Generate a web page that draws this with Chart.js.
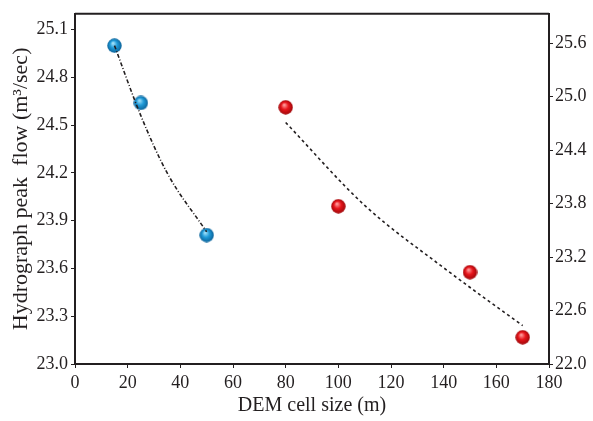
<!DOCTYPE html>
<html>
<head>
<meta charset="utf-8">
<style>
  html, body { margin: 0; padding: 0; background: #fff; }
  #wrap { width: 593px; height: 421px; }
</style>
</head>
<body>
<div id="wrap"><canvas id="peakFlowChart"></canvas></div>
<script src="https://cdn.jsdelivr.net/npm/chart.js"></script>
<script>
// values
const cellSizeBlue = [15, 25, 50];
const peakFlowBlue = [25.0, 24.64, 23.81];
const cellSizeRed = [80, 100, 150, 170];
const peakFlowRed = [24.88, 23.77, 23.03, 22.30];

// trend curves as traced on the figure
const trendBlueX = [15, 25, 35, 50];
const trendBlueY = [25.0, 24.56, 24.2, 23.83];
const trendRedX = [80, 110, 140, 170];
const trendRedY = [24.71, 23.78, 23.08, 22.43];

const xTicks = [0, 20, 40, 60, 80, 100, 120, 140, 160, 180];
const leftTicks = [23.0, 23.3, 23.6, 23.9, 24.2, 24.5, 24.8, 25.1];
const rightTicks = [22.0, 22.6, 23.2, 23.8, 24.4, 25.0, 25.6];

const ink = '#231f20';
const serif = '"Liberation Serif", "DejaVu Serif", serif';

function toPoints(xs, ys) {
    return xs.map((x, i) => ({ x: x, y: ys[i] }));
}

// shaded ball marker
function ball(light, mid, dark) {
    const c = document.createElement('canvas');
    c.width = 15; c.height = 15;
    const g = c.getContext('2d');
    const grad = g.createRadialGradient(6, 5, 0.5, 7.5, 7.5, 7.5);
    grad.addColorStop(0, light);
    grad.addColorStop(0.45, mid);
    grad.addColorStop(1, dark);
    g.fillStyle = grad;
    g.beginPath();
    g.arc(7.5, 7.5, 7.2, 0, Math.PI * 2);
    g.fill();
    return c;
}

const blueBall = ball('#9fe0fa', '#1e9ad8', '#0b5f95');
const redBall = ball('#ff9a9a', '#e8161c', '#9a0508');

// box round the plot
const frame = {
    id: 'frame',
    afterDraw(chart) {
        const a = chart.chartArea;
        const ctx = chart.ctx;
        ctx.save();
        ctx.strokeStyle = ink;
        ctx.lineWidth = 2;
        ctx.beginPath();
        ctx.moveTo(a.left, a.top);
        ctx.lineTo(a.right, a.top);
        ctx.stroke();
        ctx.restore();
    }
};

const ctx = document.getElementById('peakFlowChart').getContext('2d');
new Chart(ctx, {
    type: 'scatter',
    data: {
        datasets: [{
            label: 'trend 1',
            data: toPoints(trendBlueX, trendBlueY),
            yAxisID: 'y',
            showLine: true,
            pointRadius: 0,
            borderColor: ink,
            borderWidth: 1.6,
            borderDash: [4, 2, 1, 2],
            cubicInterpolationMode: 'monotone'
        }, {
            label: 'trend 2',
            data: toPoints(trendRedX, trendRedY),
            yAxisID: 'y2',
            showLine: true,
            pointRadius: 0,
            borderColor: ink,
            borderWidth: 1.6,
            borderDash: [3, 3],
            cubicInterpolationMode: 'monotone'
        }, {
            label: 'small cells',
            data: toPoints(cellSizeBlue, peakFlowBlue),
            yAxisID: 'y',
            pointStyle: blueBall
        }, {
            label: 'large cells',
            data: toPoints(cellSizeRed, peakFlowRed),
            yAxisID: 'y2',
            pointStyle: redBall
        }]
    },
    options: {
        responsive: true,
        maintainAspectRatio: false,
        animation: false,
        layout: { padding: { top: 5, left: 0, right: 0, bottom: 0 } },
        plugins: {
            legend: { display: false },
            tooltip: { enabled: false }
        },
        scales: {
            x: {
                type: 'linear',
                min: 0,
                max: 180,
                afterBuildTicks: s => { s.ticks = xTicks.map(v => ({ value: v })); },
                afterFit: s => { s.height = 57; },
                ticks: { color: ink, font: { family: serif, size: 18 }, padding: 4 },
                grid: { drawOnChartArea: false, tickLength: 4, color: ink },
                border: { color: ink, width: 2 },
                title: {
                    display: true,
                    text: 'DEM cell size (m)',
                    color: ink,
                    font: { family: serif, size: 20 },
                    padding: { top: 0, bottom: 3 }
                }
            },
            y: {
                position: 'left',
                min: 23.0,
                max: 25.2,
                afterBuildTicks: s => { s.ticks = leftTicks.map(v => ({ value: v })); },
                afterFit: s => { s.width = 75; },
                ticks: { color: ink, font: { family: serif, size: 18 }, padding: 3, callback: v => v.toFixed(1) },
                grid: { drawOnChartArea: false, tickLength: 4, color: ink },
                border: { color: ink, width: 2 },
                title: {
                    display: true,
                    text: 'Hydrograph peak  flow (m³/sec)',
                    color: ink,
                    font: { family: serif, size: 22 },
                    padding: { top: 8, bottom: 0 }
                }
            },
            y2: {
                position: 'right',
                min: 22.0,
                max: 25.93,
                afterBuildTicks: s => { s.ticks = rightTicks.map(v => ({ value: v })); },
                afterFit: s => { s.width = 44; },
                ticks: { color: ink, font: { family: serif, size: 18 }, padding: 2, callback: v => v.toFixed(1) },
                grid: { drawOnChartArea: false, tickLength: 4, color: ink },
                border: { color: ink, width: 2 }
            }
        }
    },
    plugins: [frame]
});
</script>
</body>
</html>
